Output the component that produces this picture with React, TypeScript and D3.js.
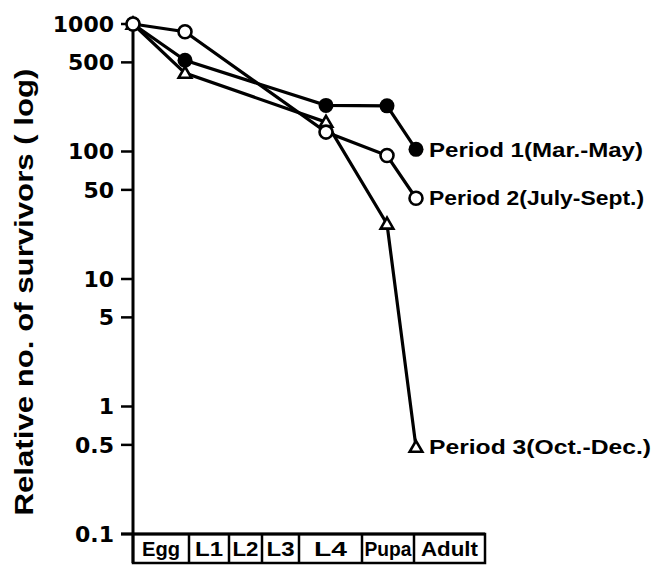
import React from "react";
import * as d3 from "d3";

// Stage boxes along the x axis (relative durations)
const stages = ["Egg", "L1", "L2", "L3", "L4", "Pupa", "Adult"];
const stageSpans = [5.6, 4.0, 3.3, 3.7, 6.3, 5.2, 7.1];

// Sampling points (position along stage axis)
const sampleStages = ["Egg", "L1", "L4", "Pupa", "Adult"];
const sampleTimes = [0, 5.2, 19.3, 25.4, 28.3];

// Relative number of survivors
const period1 = [1000, 520, 230, 228, 104];
const period2 = [1000, 870, 142, 93, 43];
const period3 = [1000, 412, 170, 27, 0.48];

const seriesNames = ["Period 1(Mar.-May)", "Period 2(July-Sept.)", "Period 3(Oct.-Dec.)"];
const yTicks = [1000, 500, 100, 50, 10, 5, 1, 0.5, 0.1];
const yTickLabels = ["1000", "500", "100", "50", "10", "5", "1", "0.5", "0.1"];

export default function App() {
  const W = 656;
  const H = 565;
  const totalSpan = d3.sum(stageSpans);
  const x = d3.scaleLinear().domain([0, totalSpan]).range([133, 485]);
  const y = d3.scaleLog().domain([0.1, 1000]).range([534, 24]);

  const line = d3
    .line<[number, number]>()
    .x((d) => x(d[0]))
    .y((d) => y(d[1]));

  const series = [period1, period2, period3].map((vals) =>
    vals.map((v, i) => [sampleTimes[i], v] as [number, number])
  );

  const edges = [0, ...d3.cumsum(stageSpans)];
  const tri = d3.symbol(d3.symbolTriangle, 70)() as string;
  const labelLens = [214, 215, 222];
  const boxLabelLens = [38, 28, 26, 28, 33, 47, 57];

  const font = "'Liberation Sans', Arial, sans-serif";

  const marker = (si: number, px: number, py: number, key: string) => {
    if (si === 0)
      return <circle key={key} cx={px} cy={py} r={7.5} fill="#000" />;
    if (si === 1)
      return (
        <circle key={key} cx={px} cy={py} r={6.5} fill="#fff" stroke="#000" strokeWidth={2.6} />
      );
    return (
      <path
        key={key}
        d={tri}
        transform={`translate(${px},${py + 1})`}
        fill="#fff"
        stroke="#000"
        strokeWidth={2.6}
      />
    );
  };

  return (
    <svg
      width={W}
      height={H}
      style={{ position: "absolute", left: 0, top: 0, background: "#fff" }}
    >
      {/* y axis */}
      <line x1={133} x2={133} y1={y(1000)} y2={563} stroke="#000" strokeWidth={3} />
      <line x1={121} x2={x(totalSpan)} y1={y(0.1)} y2={y(0.1)} stroke="#000" strokeWidth={3} />
      {yTicks.map((t, i) => (
        <g key={"t" + i}>
          <line x1={121} x2={133} y1={y(t)} y2={y(t)} stroke="#000" strokeWidth={2.5} />
          <text
            x={114}
            y={y(t)}
            dy="0.36em"
            textAnchor="end"
            fontFamily="'DejaVu Sans', sans-serif"
            fontWeight="bold"
            fontSize={22}
          >
            {yTickLabels[i]}
          </text>
        </g>
      ))}
      <text
        transform="translate(33,292) rotate(-90)"
        textAnchor="middle"
        fontFamily={font}
        fontWeight="bold"
        fontSize={25}
        textLength={447}
        lengthAdjust="spacingAndGlyphs"
      >
        Relative no. of survivors ( log)
      </text>

      {/* stage boxes */}
      <rect
        x={x(0)}
        y={y(0.1)}
        width={x(totalSpan) - x(0)}
        height={563 - y(0.1)}
        fill="none"
        stroke="#000"
        strokeWidth={2.5}
      />
      {edges.slice(1, -1).map((e, i) => (
        <line key={"e" + i} x1={x(e)} x2={x(e)} y1={y(0.1)} y2={563} stroke="#000" strokeWidth={2.5} />
      ))}
      {stages.map((s, i) => (
        <text
          key={"s" + i}
          x={(x(edges[i]) + x(edges[i + 1])) / 2}
          y={556}
          textAnchor="middle"
          fontFamily={font}
          fontWeight="bold"
          fontSize={21}
          textLength={boxLabelLens[i]}
          lengthAdjust="spacingAndGlyphs"
        >
          {s}
        </text>
      ))}

      {/* lines */}
      {series.map((pts, si) => (
        <path key={"l" + si} d={line(pts) as string} fill="none" stroke="#000" strokeWidth={3.2} />
      ))}
      {/* markers, draw period 3 first then 1, then 2 on top */}
      {[2, 0, 1].map((si) =>
        series[si].map((p, i) => marker(si, x(p[0]), y(p[1]), `m${si}-${i}`))
      )}

      {/* series labels */}
      {series.map((pts, si) => {
        const last = pts[pts.length - 1];
        return (
          <text
            key={"lab" + si}
            x={x(last[0]) + 13}
            y={y(last[1])}
            dy="0.36em"
            fontFamily={font}
            fontWeight="bold"
            fontSize={20}
            textLength={labelLens[si]}
            lengthAdjust="spacingAndGlyphs"
          >
            {seriesNames[si]}
          </text>
        );
      })}
    </svg>
  );
}
